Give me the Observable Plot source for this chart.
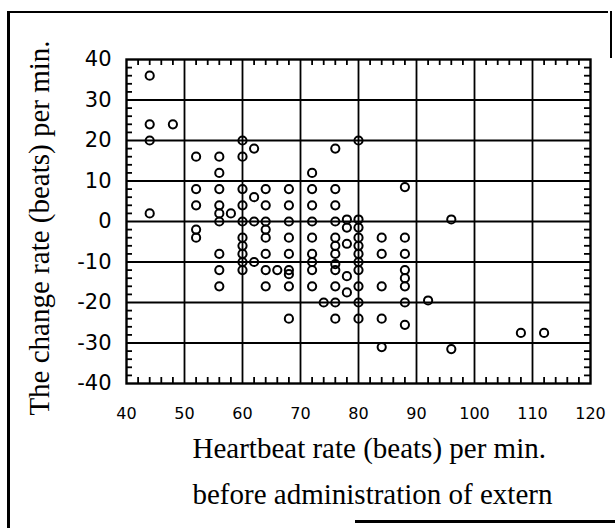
<!DOCTYPE html>
<html><head><meta charset="utf-8">
<script src="https://cdn.jsdelivr.net/npm/d3@7"></script>
<script src="https://cdn.jsdelivr.net/npm/@observablehq/plot@0.6"></script>
<style>
body{margin:0;background:#fff;}
#wrap{position:relative;width:615px;height:528px;overflow:hidden;background:#fff;}
.bl{position:absolute;background:#000;}
</style></head><body><div id="wrap"></div>
<script>
// Heartbeat rate before administration (x) and change rate (y), one entry per patient
const heartRate = [
  44,44,44,44,
  48,
  52,52,52,52,52,
  56,56,56,56,56,56,56,56,56,
  58,
  60,60,60,60,60,60,60,60,60,60,
  62,62,62,62,
  64,64,64,64,64,64,64,64,
  66,
  68,68,68,68,68,68,68,68,68,
  72,72,72,72,72,72,72,72,72,
  74,
  76,76,76,76,76,76,76,76,76,76,76,76,
  78,78,78,78,78,
  80,80,80,80,80,80,80,80,80,80,80,
  84,84,84,84,84,
  88,88,88,88,88,88,88,88,
  92,
  96,96,
  108,
  112
];
const changeRate = [
  36,24,20,2,
  24,
  16,8,4,-2,-4,
  16,12,8,4,2,0,-8,-12,-16,
  2,
  20,16,8,4,0,-4,-6,-8,-10,-12,
  18,6,0,-10,
  8,4,0,-2,-4,-8,-12,-16,
  -12,
  8,4,0,-4,-8,-12,-13,-16,-24,
  12,8,4,0,-4,-8,-10,-12,-16,
  -20,
  18,8,4,0,-4,-6,-8,-10.5,-12,-16,-20,-24,
  0.5,-1.5,-5.5,-13.5,-17.5,
  20,0.5,-1.5,-4,-6,-8,-10,-12,-16,-20,-24,
  -4,-8,-16,-24,-31,
  8.5,-4,-8,-12,-14,-16,-20,-25.5,
  -19.5,
  0.5,-31.5,
  -27.5,
  -27.5
];
const xTicks = [40,50,60,70,80,90,100,110,120];
const yTicks = [40,30,20,10,0,-10,-20,-30,-40];
const xGrid = [50,60,70,80,90,100,110];
const yGrid = [30,20,10,0,-10,-20,-30];
const xMinor = d3.range(42,120,2).filter(v => v % 10 !== 0);
const yMinor = d3.range(-38,40,2).filter(v => v % 10 !== 0);
const xTitleLines = ["Heartbeat rate (beats) per min.", "before administration of extern"];
const yTitle = "The change rate (beats) per min.";

const points = heartRate.map((x, i) => ({x, y: changeRate[i]}));

const W = 615, H = 528, mL = 126, mR = 25, mT = 59, mB = 145;
const pw = W - mL - mR, ph = H - mT - mB;

const chart = Plot.plot({
  width: W, height: H,
  marginLeft: mL, marginRight: mR, marginTop: mT, marginBottom: mB,
  style: {background: "white", color: "black", fontFamily: "DejaVu Sans"},
  x: {domain: [40, 120]},
  y: {domain: [-40, 40]},
  marks: [
    Plot.ruleX(xGrid, {stroke: "black", strokeWidth: 1.8}),
    Plot.ruleY(yGrid, {stroke: "black", strokeWidth: 1.8}),
    Plot.tickX(xMinor, {x: d => d, insetTop: ph - 6, stroke: "black", strokeWidth: 1.8}),
    Plot.tickX(xMinor, {x: d => d, insetBottom: ph - 6, stroke: "black", strokeWidth: 1.8}),
    Plot.tickY(yMinor, {y: d => d, insetRight: pw - 6, stroke: "black", strokeWidth: 1.8}),
    Plot.tickY(yMinor, {y: d => d, insetLeft: pw - 6, stroke: "black", strokeWidth: 1.8}),
    Plot.frame({stroke: "black", strokeWidth: 2.4}),
    Plot.dot(points, {x: "x", y: "y", r: 4.1, stroke: "black", strokeWidth: 2, fill: "none"}),
    Plot.axisX(xTicks, {tickSize: 0, tickPadding: 24, fontSize: 16, fontFamily: "DejaVu Sans", tickFormat: d => String(d), label: null}),
    Plot.axisY(yTicks, {tickSize: 0, tickPadding: 15, fontSize: 21, fontFamily: "DejaVu Sans", tickFormat: d => String(d), label: null}),
    Plot.text([xTitleLines.join("\n")], {frameAnchor: "bottom-left", textAnchor: "start", lineAnchor: "top", lineHeight: 1.58, dx: 66, dy: 42, fontSize: 29, fontFamily: "Liberation Serif", fill: "black"})
  ]
});

const wrap = document.getElementById("wrap");
wrap.appendChild(chart);

// rotated y-axis title
d3.select(chart).append("text")
  .attr("transform", "translate(49,228) rotate(-90)")
  .attr("text-anchor", "middle")
  .attr("font-family", "Liberation Serif")
  .attr("font-size", 29)
  .attr("fill", "black")
  .text(yTitle);

// scanned page border
[
  {left: 7, top: 11, width: 2.5, height: 517},
  {left: 7, top: 11, width: 601, height: 2},
  {left: 610, top: 11, width: 2, height: 47},
  {left: 355, top: 520, width: 260, height: 3}
].forEach(b => {
  const d = document.createElement("div");
  d.className = "bl";
  Object.assign(d.style, {left: b.left + "px", top: b.top + "px", width: b.width + "px", height: b.height + "px"});
  wrap.appendChild(d);
});
</script>
</body></html>
